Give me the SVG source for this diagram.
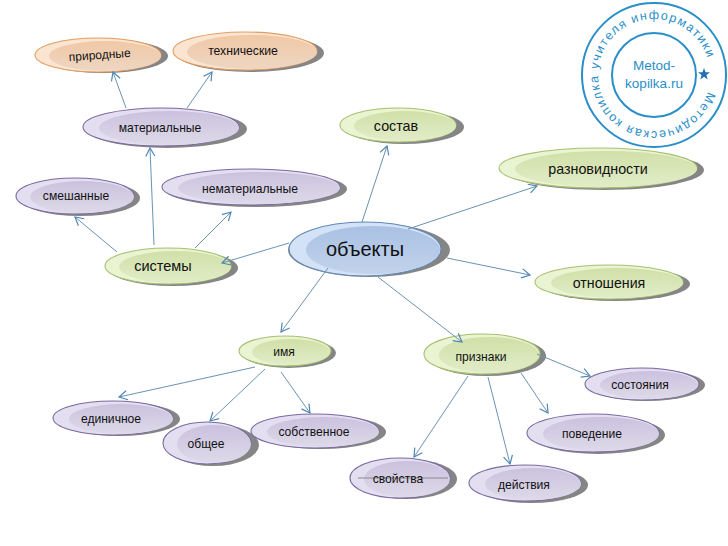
<svg xmlns="http://www.w3.org/2000/svg" xmlns:xlink="http://www.w3.org/1999/xlink" width="728" height="546" viewBox="0 0 728 546">
<style>
text{font-family:"Liberation Sans",Arial,sans-serif;fill:#111;text-anchor:middle}
.sh{fill:#858585}
.o{stroke-width:1.1}
.p .o{fill:#e4dff0;stroke:#7a6aa0}.p .i{fill:url(#gp)}
.g .o{fill:#eaf3d2;stroke:#a6c070}.g .i{fill:url(#gg)}
.r .o{fill:#fbe4d0;stroke:#e39d60}.r .i{fill:url(#gr)}
.b .o{fill:#d3e2f6;stroke:#6088b6}.b .i{fill:url(#gb)}
#connectors path{fill:none;stroke:#6a93b5;stroke-width:1;marker-end:url(#a)}
.st{fill:none;stroke:#2a8fc8;stroke-width:2}
.stt{fill:#2a8fc8;text-anchor:start}
</style>
<defs>
<linearGradient id="gp" x1="0" y1="0" x2="0" y2="1"><stop offset="0" stop-color="#cbc1df"/><stop offset="1" stop-color="#dedae8"/></linearGradient>
<linearGradient id="gg" x1="0" y1="0" x2="0" y2="1"><stop offset="0" stop-color="#d0e0a8"/><stop offset="1" stop-color="#e2ecc8"/></linearGradient>
<linearGradient id="gr" x1="0" y1="0" x2="0" y2="1"><stop offset="0" stop-color="#f0c8a6"/><stop offset="1" stop-color="#eed6c2"/></linearGradient>
<linearGradient id="gb" x1="0" y1="0" x2="0" y2="1"><stop offset="0" stop-color="#a9c1e4"/><stop offset="1" stop-color="#c2d3ea"/></linearGradient>
<marker id="a" viewBox="0 0 12 12" refX="11" refY="6" markerWidth="11" markerHeight="11" markerUnits="userSpaceOnUse" orient="auto"><path d="M2 1L11 6L2 11" fill="none" stroke="#4f86b4" stroke-width="1.3"/></marker>
<path id="ring" d="M707.600 91.400A56 56 0 1 1 709.800 70.100"/>
</defs>
<rect width="728" height="546" fill="#fff"/>
<g id="n-prirodnye" class="r"><ellipse class="sh" cx="103" cy="56" rx="65" ry="17"/><ellipse class="o" cx="98" cy="55" rx="63" ry="17"/><ellipse class="i" cx="105" cy="56" rx="56" ry="15"/><text x="100" y="59" font-size="12" transform="rotate(-4 100 59)">природные</text></g>
<g id="n-tekhnicheskie" class="r"><ellipse class="sh" cx="250" cy="53" rx="74" ry="19"/><ellipse class="o" cx="245" cy="51" rx="72" ry="19"/><ellipse class="i" cx="252" cy="52" rx="65" ry="17"/><text x="243" y="55" font-size="12.200">технические</text></g>
<g id="n-materialnye" class="p"><ellipse class="sh" cx="167" cy="129" rx="80" ry="19"/><ellipse class="o" cx="161" cy="127" rx="78" ry="19"/><ellipse class="i" cx="169" cy="128" rx="70" ry="17"/><text x="160" y="132" font-size="12.100">материальные</text></g>
<g id="n-sostav" class="g"><ellipse class="sh" cx="404" cy="127" rx="60" ry="17"/><ellipse class="o" cx="398" cy="125" rx="58" ry="17"/><ellipse class="i" cx="405" cy="126" rx="51" ry="15"/><text x="396" y="131" font-size="14.300">состав</text></g>
<g id="n-raznovidnosti" class="g"><ellipse class="sh" cx="604" cy="170" rx="100" ry="20"/><ellipse class="o" cx="598" cy="168" rx="99" ry="20"/><ellipse class="i" cx="606" cy="169" rx="91" ry="18"/><text x="598" y="174" font-size="14.300">разновидности</text></g>
<g id="n-nematerialnye" class="p"><ellipse class="sh" cx="256" cy="189" rx="91" ry="18"/><ellipse class="o" cx="251" cy="187" rx="89" ry="18"/><ellipse class="i" cx="259" cy="188" rx="81" ry="16"/><text x="250" y="193" font-size="12.100">нематериальные</text></g>
<g id="n-smeshannye" class="p"><ellipse class="sh" cx="80" cy="198" rx="60" ry="18"/><ellipse class="o" cx="75" cy="196" rx="59" ry="18"/><ellipse class="i" cx="82" cy="197" rx="52" ry="16"/><text x="76" y="200" font-size="12.100">смешанные</text></g>
<g id="n-sistemy" class="g"><ellipse class="sh" cx="173" cy="268" rx="65" ry="18"/><ellipse class="o" cx="168" cy="266" rx="63" ry="18"/><ellipse class="i" cx="175" cy="267" rx="56" ry="16"/><text x="163" y="271" font-size="14.500">системы</text></g>
<g id="n-obekty" class="b"><ellipse class="sh" cx="369" cy="250" rx="81" ry="27"/><ellipse class="o" cx="365" cy="249" rx="76" ry="27"/><ellipse class="i" cx="373" cy="250" rx="67" ry="24"/><text x="365" y="256" font-size="20">объекты</text></g>
<g id="n-otnosheniya" class="g"><ellipse class="sh" cx="615" cy="284" rx="75" ry="17"/><ellipse class="o" cx="609" cy="282" rx="74" ry="17"/><ellipse class="i" cx="617" cy="283" rx="66" ry="15"/><text x="609" y="288" font-size="14.200">отношения</text></g>
<g id="n-imya" class="g"><ellipse class="sh" cx="289" cy="353" rx="47" ry="15"/><ellipse class="o" cx="285" cy="351" rx="46" ry="15"/><ellipse class="i" cx="291" cy="352" rx="39" ry="13"/><text x="284" y="356" font-size="12.100">имя</text></g>
<g id="n-priznaki" class="g"><ellipse class="sh" cx="487" cy="356" rx="59" ry="20"/><ellipse class="o" cx="482" cy="354" rx="58" ry="20"/><ellipse class="i" cx="489" cy="355" rx="50" ry="18"/><text x="481" y="361" font-size="12.100">признаки</text></g>
<g id="n-sostoyaniya" class="p"><ellipse class="sh" cx="647" cy="385" rx="58" ry="16"/><ellipse class="o" cx="642" cy="384" rx="57" ry="16"/><ellipse class="i" cx="649" cy="385" rx="49" ry="14"/><text x="640" y="389" font-size="12.100">состояния</text></g>
<g id="n-povedenie" class="p"><ellipse class="sh" cx="598" cy="435" rx="67" ry="19"/><ellipse class="o" cx="593" cy="433" rx="66" ry="19"/><ellipse class="i" cx="601" cy="434" rx="58" ry="17"/><text x="592" y="438" font-size="12.100">поведение</text></g>
<g id="n-svoystva" class="p"><ellipse class="sh" cx="406" cy="479" rx="51" ry="20"/><ellipse class="o" cx="400" cy="478" rx="50" ry="20"/><ellipse class="i" cx="407" cy="479" rx="43" ry="18"/><path d="M358 478H448" stroke="#8a8a8a" stroke-width="1"/><text x="398" y="483" font-size="12.100">свойства</text></g>
<g id="n-deystviya" class="p"><ellipse class="sh" cx="531" cy="485" rx="57" ry="18"/><ellipse class="o" cx="525" cy="483" rx="56" ry="18"/><ellipse class="i" cx="533" cy="484" rx="48" ry="16"/><text x="524" y="489" font-size="12.100">действия</text></g>
<g id="n-edinichnoe" class="p"><ellipse class="sh" cx="119" cy="419" rx="61" ry="17"/><ellipse class="o" cx="113" cy="418" rx="60" ry="17"/><ellipse class="i" cx="121" cy="419" rx="52" ry="15"/><text x="111" y="423" font-size="12.100">единичное</text></g>
<g id="n-obshchee" class="p"><ellipse class="sh" cx="213" cy="445" rx="46" ry="21"/><ellipse class="o" cx="207" cy="443" rx="44" ry="21"/><ellipse class="i" cx="214" cy="444" rx="37" ry="19"/><text x="206" y="448" font-size="12.100">общее</text></g>
<g id="n-sobstvennoe" class="p"><ellipse class="sh" cx="321" cy="432" rx="65" ry="17"/><ellipse class="o" cx="315" cy="431" rx="64" ry="17"/><ellipse class="i" cx="323" cy="432" rx="56" ry="15"/><text x="314" y="436" font-size="12.100">собственное</text></g>
<g id="connectors">
<path d="M126 108L113 72"/><path d="M187 108L212 72"/><path d="M154 245L150 148"/><path d="M117 252L75 217"/><path d="M195 248L231 212"/>
<path d="M289 243L222 263"/><path d="M362 222L387 146"/><path d="M408 229L537 186"/><path d="M447 258L530 275"/><path d="M328 268L281 332"/><path d="M378 277L462 342"/>
<path d="M255 367L119 397"/><path d="M265 369L210 421"/><path d="M281 372L310 413"/>
<path d="M468 376L414 457"/><path d="M488 377L510 464"/><path d="M521 373L548 413"/><path d="M537 354L590 376"/>
</g>
<g id="stamp">
<circle class="st" cx="654" cy="75" r="72"/><circle class="st" cx="654" cy="75" r="42"/>
<text class="stt" font-size="12.500" letter-spacing="1.350"><textPath href="#ring" xlink:href="#ring">Методическая копилка учителя информатики</textPath></text>
<text x="654" y="70" font-size="13.500" style="fill:#2a8fc8">Metod-</text>
<text x="654" y="88" font-size="13.500" style="fill:#2a8fc8">kopilka.ru</text>
<path d="M704 68L705.500 72.300L710 72.300L706.400 75L707.700 79.400L704 76.800L700.300 79.400L701.600 75L698 72.300L702.500 72.300Z" fill="#1f6fb5"/>
</g>
</svg>
